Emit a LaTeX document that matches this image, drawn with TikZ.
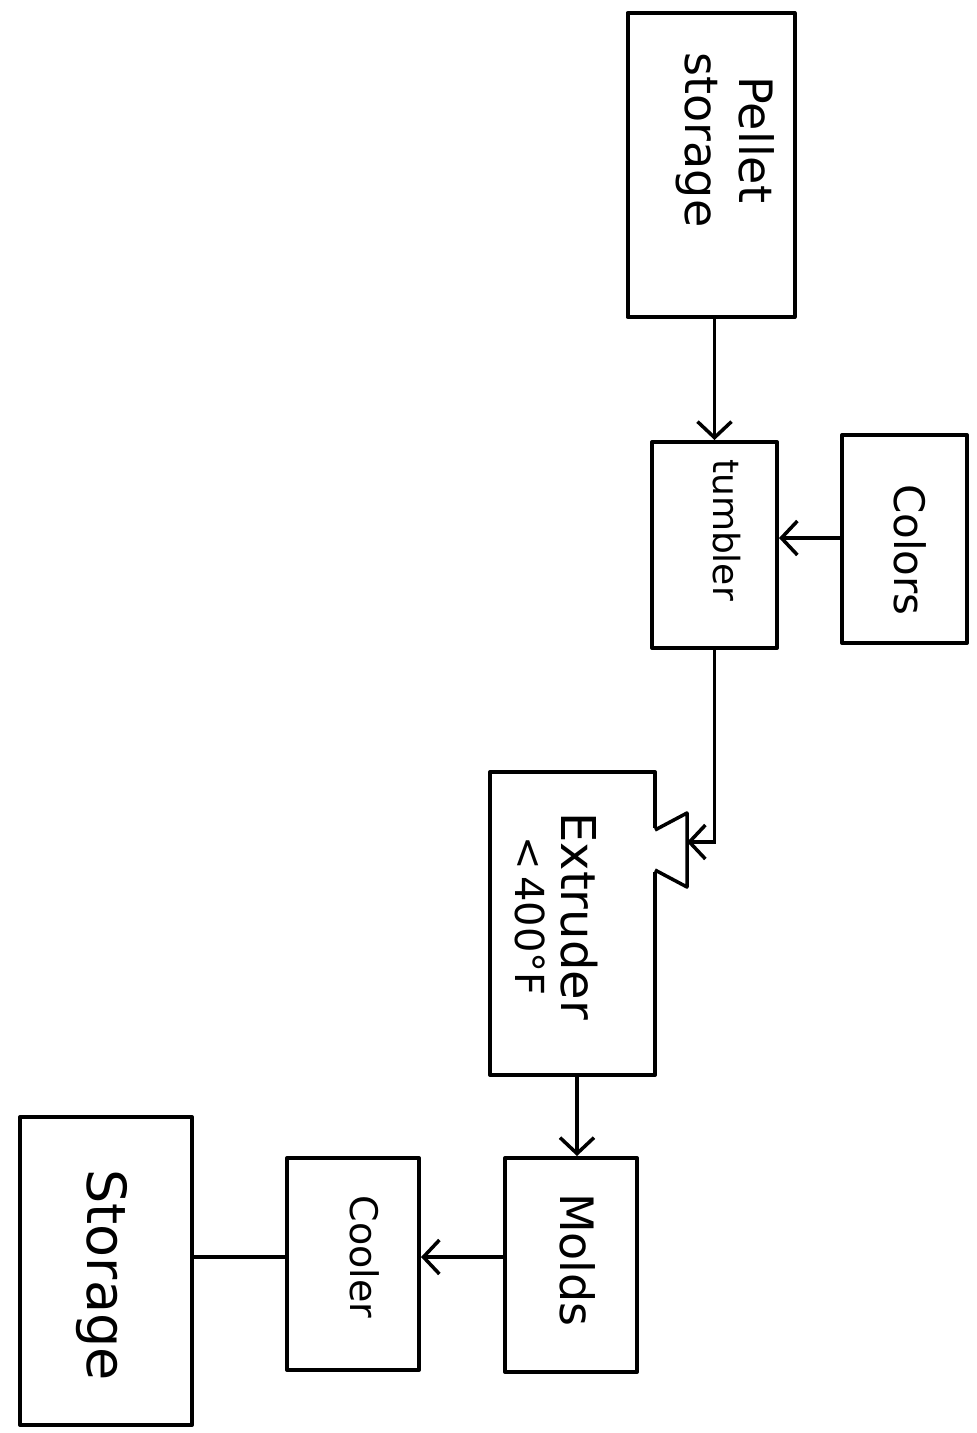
\documentclass[tikz,border=0pt]{standalone}
\usepackage{fontspec}
\setmainfont{DejaVu Sans}
\usetikzlibrary{arrows.meta,calc}
\tikzset{
  box/.style={draw, line width=4pt, rectangle, inner sep=0pt, line join=round},
  lbl/.style={rotate=-90, align=center, font=\fontsize{40}{48}\selectfont, inner sep=0pt},
  flow/.style={line width=3.5pt, -{Straight Barb[length=16pt,width=34pt,line width=3.5pt]}},
  plain/.style={line width=3.5pt}
}
\begin{document}
\begin{tikzpicture}[x=1pt,y=-1pt]
\useasboundingbox (0,0) rectangle (977,1433);
% boxes
\node[box, minimum width=167pt, minimum height=304pt] (pellet) at (711,165) {};
\node[box, minimum width=125pt, minimum height=206pt] (tumbler) at (714.5,545) {};
\node[box, minimum width=125pt, minimum height=208pt] (colors) at (904.5,539) {};
\node[box, minimum width=165pt, minimum height=303pt] (extruder) at (572.5,923.5) {};
\node[box, minimum width=132pt, minimum height=214pt] (molds) at (571,1265) {};
\node[box, minimum width=132pt, minimum height=212pt] (cooler) at (353,1264) {};
\node[box, minimum width=172pt, minimum height=308pt] (storage) at (106,1271) {};
% hopper on extruder
\fill[white] (652,828) rectangle (662,872);
\coordinate (h1) at (655,830);
\coordinate (h2) at (687,813);
\coordinate (h3) at (687,887);
\coordinate (h4) at (655,870);
\draw[plain, line join=round] (h1) -- (h2) -- (h3) -- (h4);
% labels
\node[lbl, font=\fontsize{46}{54}\selectfont] (tpellet) at (725,140) {Pellet\\storage};
\node[lbl, font=\fontsize{36}{40}\selectfont] (ttumbler) at (727,530) {tumbler};
\node[lbl, font=\fontsize{42}{48}\selectfont] (tcolors) at (910,550) {Colors};
\node[lbl, font=\fontsize{48}{46}\selectfont] (textruder) at (556,916) {Extruder\\{\fontsize{40}{46}\selectfont <\,400°F}};
\node[lbl, font=\fontsize{46}{52}\selectfont] (tmolds) at (578,1260) {Molds};
\node[lbl, font=\fontsize{38}{44}\selectfont] (tcooler) at (365,1257) {Cooler};
\node[lbl, font=\fontsize{54}{60}\selectfont] (tstorage) at (102,1275) {Storage};
% connectors
\draw[flow] (pellet.south -| tumbler.north) -- (tumbler.north);
\draw[flow] (colors.west |- 0,538) -- (tumbler.east |- 0,538);
\draw[flow] (tumbler.south) |- (h2 |- 0,842);
\draw[flow] (extruder.south -| 577,0) -- (molds.north -| 577,0);
\draw[flow] (molds.west |- 0,1257) -- (cooler.east |- 0,1257);
\draw[plain] (cooler.west |- 0,1257) -- (storage.east |- 0,1257);
\end{tikzpicture}
\end{document}
